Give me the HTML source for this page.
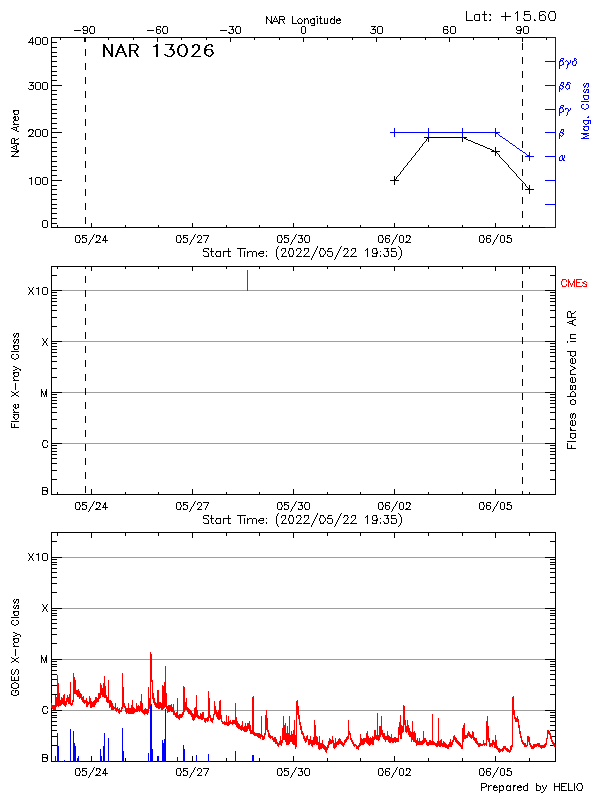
<!DOCTYPE html>
<html lang="en"><head><meta charset="utf-8"><title>NAR 13026</title>
<style>
html,body{margin:0;padding:0;background:#fff}
body{width:600px;height:800px;overflow:hidden;font-family:"Liberation Sans",sans-serif}
svg{display:block}
path{fill:none;stroke-width:1;stroke-linecap:butt}
.k{stroke:#000}.b{stroke:#00f}.r{stroke:#f00}.g{stroke:#9e9e9e}
.t text{font-family:"Liberation Sans",sans-serif;fill:transparent;stroke:none}
</style></head><body>
<svg width="600" height="800" viewBox="0 0 600 800" shape-rendering="crispEdges">
<title>NAR 13026 - NAR area, magnetic class, flares and GOES X-ray flux</title>
<rect width="600" height="800" fill="#fff"/>
<path class="g" d="M62 290.5h23M86 290.5h161M248 290.5h297M62 341.5h460M523 341.5h22M62 392.5h23M86 392.5h459M62 443.5h483M62 557.5h483M62 608.5h483M62 659.5h88M152 659.5h393M62 710.5h53M122 710.5h3M149 710.5h1M152 710.5h13M166 710.5h1M174 710.5h3M178 710.5h5M185 710.5h2M191 710.5h3M198 710.5h10M210 710.5h4M217 710.5h1M221 710.5h14M236 710.5h16M254 710.5h12M267 710.5h29M299 710.5h104M405 710.5h107M515 710.5h30"/>
<path class="k" d="M524 11.5h6M540 11.5h5M550 11.5h5M516 12.5h1M545 12.5h1M515 13.5h1M475 14.5h4M482 14.5h5M489 14.5h2M524 14.5h6M542 14.5h2M540 15.5h2M544 15.5h1M280 16.5h4M316 16.5h2M501 16.5h10M267 17.5h1M267 18.5h1M299 18.5h2M306 18.5h2M312 18.5h2M319 18.5h3M331 18.5h2M338 18.5h1M523 18.5h1M268 19.5h1M280 19.5h5M298 19.5h1M301 19.5h1M305 19.5h1M311 19.5h1M313 19.5h1M331 19.5h1M333 19.5h1M337 19.5h1M340 19.5h1M269 20.5h1M336 20.5h5M467 20.5h6M475 20.5h4M485 20.5h2M489 20.5h2M524 20.5h6M534 20.5h2M540 20.5h5M550 20.5h5M270 21.5h1M273 21.5h5M270 22.5h3M278 22.5h1M340 22.5h1M272 23.5h1M278 23.5h1M284 23.5h1M293 23.5h4M298 23.5h4M311 23.5h3M321 23.5h2M325 23.5h2M331 23.5h3M337 23.5h3M311 25.5h3M83 26.5h4M90 26.5h4M157 26.5h4M163 26.5h4M229 26.5h5M236 26.5h4M302 26.5h3M371 26.5h5M378 26.5h4M444 26.5h4M451 26.5h4M517 26.5h4M524 26.5h4M82 28.5h1M157 29.5h3M231 29.5h1M372 29.5h4M444 29.5h4M74 30.5h7M83 30.5h4M147 30.5h7M220 30.5h7M517 30.5h5M448 31.5h1M228 32.5h2M370 32.5h1M516 32.5h1M83 33.5h4M90 33.5h4M157 33.5h3M163 33.5h4M229 33.5h4M236 33.5h4M302 33.5h3M371 33.5h4M378 33.5h4M444 33.5h4M451 33.5h4M517 33.5h3M524 33.5h4M36 37.5h4M43 37.5h4M51 37.5h494M31 38.5h1M28 42.5h6M52 42.5h5M36 44.5h4M43 44.5h4M131 44.5h6M165 44.5h9M181 44.5h4M194 44.5h4M208 44.5h4M105 45.5h1M136 45.5h1M155 45.5h1M179 45.5h3M184 45.5h1M192 45.5h3M197 45.5h1M206 45.5h3M212 45.5h1M105 46.5h1M119 46.5h3M138 46.5h1M153 46.5h3M212 46.5h1M52 47.5h5M105 47.5h2M119 47.5h3M138 47.5h1M169 49.5h4M204 49.5h8M131 50.5h6M172 50.5h1M197 50.5h1M206 50.5h1M196 51.5h2M52 52.5h5M117 52.5h8M195 52.5h2M213 52.5h1M109 53.5h2M194 53.5h2M213 53.5h1M110 54.5h1M164 54.5h2M172 54.5h1M194 54.5h1M206 54.5h1M211 54.5h1M110 55.5h1M115 55.5h1M126 55.5h1M165 55.5h3M171 55.5h2M179 55.5h3M184 55.5h1M192 55.5h1M206 55.5h3M210 55.5h2M52 56.5h5M115 56.5h1M126 56.5h1M138 56.5h1M167 56.5h5M181 56.5h4M191 56.5h10M208 56.5h3M52 61.5h5M52 66.5h5M52 71.5h5M52 75.5h5M52 80.5h5M29 82.5h5M36 82.5h4M43 82.5h4M30 85.5h4M52 85.5h10M28 88.5h1M29 89.5h4M36 89.5h4M43 89.5h4M52 90.5h5M52 94.5h5M52 99.5h5M52 104.5h5M52 109.5h5M13 110.5h6M14 111.5h1M52 113.5h5M14 114.5h4M14 116.5h1M17 116.5h1M13 117.5h2M52 118.5h5M14 119.5h1M14 120.5h4M52 123.5h5M13 124.5h6M17 126.5h2M13 127.5h4M11 128.5h2M52 128.5h5M13 129.5h2M29 129.5h4M36 129.5h4M43 129.5h4M15 130.5h1M28 130.5h2M32 130.5h2M17 131.5h2M52 132.5h10M31 134.5h1M29 135.5h2M28 136.5h6M36 136.5h4M43 136.5h4M52 137.5h5M424 137.5h43M12 138.5h2M18 138.5h1M427 138.5h1M464 138.5h2M16 139.5h2M466 139.5h2M15 140.5h1M468 140.5h3M425 141.5h1M471 141.5h2M52 142.5h5M424 142.5h1M473 142.5h2M11 143.5h8M423 143.5h1M475 143.5h3M17 144.5h2M478 144.5h2M15 145.5h1M480 145.5h3M13 146.5h2M421 146.5h1M483 146.5h2M11 147.5h2M52 147.5h5M420 147.5h1M485 147.5h2M13 148.5h2M487 148.5h3M15 149.5h1M490 149.5h2M18 150.5h1M418 150.5h1M492 150.5h2M11 151.5h8M52 151.5h5M417 151.5h1M491 151.5h9M16 152.5h1M416 152.5h1M496 152.5h1M15 153.5h1M497 153.5h1M14 154.5h1M498 154.5h1M12 155.5h2M414 155.5h1M11 156.5h8M52 156.5h5M413 156.5h1M412 157.5h1M500 157.5h1M501 158.5h1M502 159.5h1M410 160.5h1M503 160.5h1M52 161.5h5M409 161.5h1M504 161.5h1M408 162.5h1M505 162.5h1M506 163.5h1M507 164.5h1M406 165.5h1M52 166.5h5M405 166.5h1M404 167.5h1M509 167.5h1M510 168.5h1M511 169.5h1M52 170.5h5M402 170.5h1M512 170.5h1M401 171.5h1M513 171.5h1M514 172.5h1M515 173.5h1M399 174.5h1M52 175.5h5M398 175.5h1M397 176.5h1M517 176.5h1M36 177.5h4M43 177.5h4M518 177.5h1M29 178.5h2M519 178.5h1M395 179.5h1M520 179.5h1M52 180.5h10M390 180.5h9M521 180.5h1M522 181.5h1M523 182.5h1M524 183.5h1M36 184.5h4M43 184.5h4M52 185.5h5M526 186.5h1M527 187.5h1M528 188.5h1M52 189.5h5M525 189.5h9M52 194.5h5M52 199.5h5M52 204.5h5M52 208.5h5M52 213.5h5M52 218.5h5M43 220.5h4M52 223.5h5M43 227.5h4M51 227.5h494M94 234.5h1M195 234.5h1M296 234.5h1M397 234.5h1M498 234.5h1M76 235.5h4M82 235.5h5M96 235.5h4M177 235.5h4M183 235.5h5M198 235.5h3M203 235.5h6M278 235.5h4M284 235.5h5M298 235.5h5M305 235.5h4M379 235.5h4M386 235.5h4M400 235.5h3M406 235.5h4M480 235.5h4M487 235.5h4M501 235.5h3M507 235.5h4M99 236.5h2M104 236.5h1M409 236.5h2M83 237.5h2M104 237.5h1M184 237.5h2M285 237.5h2M508 237.5h2M85 238.5h1M186 238.5h1M287 238.5h1M300 238.5h1M386 238.5h3M487 238.5h3M510 238.5h1M91 239.5h1M192 239.5h1M200 239.5h1M293 239.5h1M394 239.5h1M495 239.5h1M98 240.5h1M102 240.5h6M199 240.5h1M408 240.5h1M96 241.5h2M406 241.5h2M506 241.5h2M76 242.5h4M82 242.5h4M95 242.5h6M177 242.5h4M183 242.5h4M197 242.5h5M278 242.5h4M284 242.5h4M298 242.5h4M305 242.5h4M379 242.5h4M386 242.5h3M400 242.5h3M405 242.5h6M480 242.5h4M487 242.5h3M501 242.5h3M507 242.5h4M88 244.5h1M189 244.5h1M290 244.5h1M391 244.5h1M492 244.5h1M278 246.5h1M341 246.5h1M398 246.5h1M399 247.5h1M204 248.5h5M237 248.5h9M282 248.5h4M289 248.5h4M297 248.5h4M304 248.5h5M320 248.5h4M328 248.5h4M344 248.5h4M352 248.5h4M373 248.5h4M384 248.5h5M391 248.5h5M366 249.5h1M301 250.5h1M324 250.5h1M343 250.5h1M348 250.5h1M365 250.5h1M203 251.5h4M210 251.5h4M216 251.5h4M223 251.5h8M249 251.5h3M253 251.5h3M260 251.5h4M266 251.5h1M327 251.5h5M380 251.5h1M386 251.5h1M391 251.5h5M207 252.5h1M248 252.5h1M284 252.5h1M307 252.5h1M354 252.5h1M258 253.5h6M283 253.5h1M299 253.5h1M306 253.5h1M346 253.5h1M353 253.5h1M373 253.5h5M298 254.5h1M305 254.5h1M324 254.5h1M345 254.5h1M352 254.5h1M383 254.5h1M203 255.5h1M259 255.5h1M263 255.5h1M204 256.5h5M212 256.5h2M216 256.5h4M229 256.5h2M260 256.5h3M281 256.5h6M289 256.5h4M296 256.5h6M303 256.5h7M320 256.5h4M328 256.5h4M343 256.5h6M350 256.5h7M372 256.5h5M384 256.5h4M391 256.5h5M399 258.5h1M278 259.5h1M334 259.5h1M398 259.5h1M51 266.5h505M52 275.5h5M550 275.5h5M28 287.5h1M33 287.5h1M43 287.5h4M36 288.5h2M30 290.5h2M52 290.5h10M545 290.5h10M30 291.5h2M52 292.5h5M550 292.5h5M28 294.5h1M33 294.5h1M43 294.5h4M52 295.5h5M550 295.5h5M52 298.5h5M550 298.5h5M52 301.5h5M550 301.5h5M52 305.5h5M550 305.5h5M52 310.5h5M550 310.5h5M568 311.5h3M575 311.5h1M574 312.5h1M572 313.5h2M52 317.5h5M550 317.5h5M567 317.5h9M574 319.5h2M573 320.5h1M569 321.5h3M567 322.5h2M569 323.5h3M573 324.5h1M574 325.5h2M52 326.5h5M550 326.5h5M14 333.5h1M16 333.5h2M570 334.5h6M14 336.5h2M17 337.5h1M42 338.5h1M47 338.5h1M570 338.5h6M14 339.5h1M16 339.5h2M44 341.5h2M52 341.5h10M545 341.5h10M570 341.5h6M14 342.5h2M44 342.5h2M17 343.5h1M52 343.5h5M550 343.5h5M13 345.5h6M42 345.5h1M47 345.5h1M14 346.5h1M52 346.5h5M550 346.5h5M14 349.5h4M52 349.5h5M550 349.5h5M11 351.5h8M567 351.5h9M52 352.5h5M550 352.5h5M12 354.5h2M16 354.5h2M571 355.5h1M574 355.5h1M52 356.5h5M550 356.5h5M572 356.5h2M12 358.5h2M16 358.5h2M571 358.5h1M574 358.5h1M14 359.5h2M52 361.5h5M550 361.5h5M571 363.5h4M570 365.5h1M13 366.5h2M571 366.5h2M15 367.5h2M573 367.5h2M17 368.5h2M52 368.5h5M550 368.5h5M574 368.5h2M15 369.5h2M19 369.5h2M572 369.5h2M13 370.5h2M571 370.5h1M13 372.5h6M14 373.5h1M570 374.5h6M14 376.5h4M52 377.5h5M550 377.5h5M571 377.5h1M574 377.5h1M13 380.5h6M571 382.5h4M571 385.5h1M573 385.5h2M571 389.5h1M574 389.5h1M11 391.5h1M18 391.5h1M42 391.5h1M572 391.5h2M12 392.5h2M16 392.5h2M42 392.5h1M52 392.5h10M545 392.5h10M571 392.5h1M574 392.5h1M14 393.5h2M14 394.5h2M52 394.5h5M550 394.5h5M12 395.5h2M16 395.5h2M11 396.5h1M18 396.5h1M567 396.5h9M52 397.5h5M550 397.5h5M572 399.5h2M52 400.5h5M550 400.5h5M571 400.5h1M574 400.5h1M52 403.5h5M550 403.5h5M14 404.5h1M17 404.5h1M571 404.5h4M14 407.5h1M17 407.5h1M52 407.5h5M550 407.5h5M16 408.5h1M13 412.5h6M52 412.5h5M550 412.5h5M571 413.5h1M573 413.5h2M13 414.5h6M573 414.5h1M13 417.5h2M17 418.5h1M571 418.5h1M574 418.5h1M15 419.5h2M52 419.5h5M550 419.5h5M571 420.5h1M574 420.5h1M11 421.5h8M571 425.5h4M11 427.5h8M52 428.5h5M550 428.5h5M571 429.5h1M570 430.5h6M570 433.5h6M571 437.5h1M574 437.5h1M572 438.5h2M43 440.5h4M567 441.5h9M52 443.5h10M545 443.5h10M52 445.5h5M550 445.5h5M43 447.5h4M52 448.5h5M550 448.5h5M567 448.5h9M52 451.5h5M550 451.5h5M52 454.5h5M550 454.5h5M52 458.5h5M550 458.5h5M52 463.5h5M550 463.5h5M52 470.5h5M550 470.5h5M52 479.5h5M550 479.5h5M43 487.5h4M43 490.5h5M46 491.5h1M43 494.5h4M51 494.5h505M94 501.5h1M195 501.5h1M296 501.5h1M397 501.5h1M498 501.5h1M76 502.5h4M82 502.5h5M96 502.5h4M177 502.5h4M183 502.5h5M198 502.5h3M203 502.5h6M278 502.5h4M284 502.5h5M298 502.5h5M305 502.5h4M379 502.5h4M386 502.5h4M400 502.5h3M406 502.5h4M480 502.5h4M487 502.5h4M501 502.5h3M507 502.5h4M99 503.5h2M104 503.5h1M409 503.5h2M83 504.5h2M104 504.5h1M184 504.5h2M285 504.5h2M508 504.5h2M85 505.5h1M186 505.5h1M287 505.5h1M300 505.5h1M386 505.5h3M487 505.5h3M510 505.5h1M91 506.5h1M192 506.5h1M200 506.5h1M293 506.5h1M394 506.5h1M495 506.5h1M98 507.5h1M102 507.5h6M199 507.5h1M408 507.5h1M96 508.5h2M406 508.5h2M506 508.5h2M76 509.5h4M82 509.5h4M95 509.5h6M177 509.5h4M183 509.5h4M197 509.5h5M278 509.5h4M284 509.5h4M298 509.5h4M305 509.5h4M379 509.5h4M386 509.5h3M400 509.5h3M405 509.5h6M480 509.5h4M487 509.5h3M501 509.5h3M507 509.5h4M88 511.5h1M189 511.5h1M290 511.5h1M391 511.5h1M492 511.5h1M278 513.5h1M341 513.5h1M398 513.5h1M399 514.5h1M204 515.5h5M237 515.5h9M282 515.5h4M289 515.5h4M297 515.5h4M304 515.5h5M320 515.5h4M328 515.5h4M344 515.5h4M352 515.5h4M373 515.5h4M384 515.5h5M391 515.5h5M366 516.5h1M301 517.5h1M324 517.5h1M343 517.5h1M348 517.5h1M365 517.5h1M203 518.5h4M210 518.5h4M216 518.5h4M223 518.5h8M249 518.5h3M253 518.5h3M260 518.5h4M266 518.5h1M327 518.5h5M380 518.5h1M386 518.5h1M391 518.5h5M207 519.5h1M248 519.5h1M284 519.5h1M307 519.5h1M354 519.5h1M258 520.5h6M283 520.5h1M299 520.5h1M306 520.5h1M346 520.5h1M353 520.5h1M373 520.5h5M298 521.5h1M305 521.5h1M324 521.5h1M345 521.5h1M352 521.5h1M383 521.5h1M203 522.5h1M259 522.5h1M263 522.5h1M204 523.5h5M212 523.5h2M216 523.5h4M229 523.5h2M260 523.5h3M281 523.5h6M289 523.5h4M296 523.5h6M303 523.5h7M320 523.5h4M328 523.5h4M343 523.5h6M350 523.5h7M372 523.5h5M384 523.5h4M391 523.5h5M399 525.5h1M278 526.5h1M334 526.5h1M398 526.5h1M51 532.5h505M52 541.5h5M550 541.5h5M28 553.5h1M33 553.5h1M43 553.5h4M36 554.5h2M30 556.5h2M30 557.5h2M52 557.5h10M545 557.5h10M52 559.5h5M550 559.5h5M28 560.5h1M33 560.5h1M43 560.5h4M52 562.5h5M550 562.5h5M52 564.5h5M550 564.5h5M52 568.5h5M550 568.5h5M52 572.5h5M550 572.5h5M52 577.5h5M550 577.5h5M52 583.5h5M550 583.5h5M52 592.5h5M550 592.5h5M14 599.5h1M16 599.5h2M14 602.5h2M17 603.5h1M42 604.5h1M47 604.5h1M14 605.5h1M16 605.5h2M44 607.5h2M14 608.5h2M17 608.5h1M44 608.5h2M52 608.5h10M545 608.5h10M52 610.5h5M550 610.5h5M13 611.5h6M42 611.5h1M47 611.5h1M14 612.5h1M52 613.5h5M550 613.5h5M14 615.5h4M52 615.5h5M550 615.5h5M11 617.5h8M52 619.5h5M550 619.5h5M12 620.5h2M16 620.5h2M52 623.5h5M550 623.5h5M12 624.5h2M16 624.5h2M14 625.5h2M52 628.5h5M550 628.5h5M13 632.5h2M15 633.5h2M17 634.5h3M52 634.5h5M550 634.5h5M15 635.5h2M13 636.5h2M13 638.5h6M14 639.5h1M14 642.5h4M52 643.5h5M550 643.5h5M13 646.5h6M11 657.5h1M18 657.5h1M42 657.5h1M12 658.5h2M16 658.5h2M42 658.5h1M14 659.5h2M52 659.5h10M545 659.5h10M14 660.5h2M12 661.5h2M16 661.5h2M52 661.5h5M550 661.5h5M11 662.5h1M18 662.5h1M52 664.5h5M550 664.5h5M52 666.5h5M550 666.5h5M12 669.5h1M16 669.5h2M52 670.5h5M550 670.5h5M12 674.5h2M17 674.5h1M52 674.5h5M550 674.5h5M52 679.5h5M550 679.5h5M11 680.5h8M14 682.5h2M12 683.5h2M16 683.5h2M52 685.5h5M550 685.5h5M12 687.5h1M17 687.5h1M13 688.5h4M12 690.5h2M15 690.5h3M12 694.5h1M17 694.5h1M52 694.5h5M550 694.5h5M13 695.5h4M43 706.5h4M52 710.5h10M545 710.5h10M52 712.5h5M550 712.5h5M43 713.5h4M52 715.5h5M550 715.5h5M52 717.5h5M550 717.5h5M52 721.5h5M550 721.5h5M52 725.5h5M550 725.5h5M52 730.5h5M550 730.5h5M52 736.5h5M552 736.5h3M52 745.5h5M550 745.5h3M43 754.5h4M43 757.5h5M46 758.5h1M43 761.5h4M52 761.5h3M56 761.5h1M59 761.5h2M62 761.5h1M65 761.5h5M71 761.5h2M76 761.5h1M79 761.5h21M102 761.5h1M105 761.5h3M109 761.5h13M124 761.5h24M149 761.5h1M153 761.5h4M159 761.5h3M166 761.5h11M178 761.5h5M185 761.5h11M197 761.5h11M209 761.5h26M236 761.5h16M254 761.5h258M513 761.5h42M94 767.5h1M195 767.5h1M296 767.5h1M397 767.5h1M498 767.5h1M76 768.5h4M82 768.5h5M96 768.5h4M177 768.5h4M183 768.5h5M198 768.5h3M203 768.5h6M278 768.5h4M284 768.5h5M298 768.5h5M305 768.5h4M379 768.5h4M386 768.5h4M400 768.5h3M406 768.5h4M480 768.5h4M487 768.5h4M501 768.5h3M507 768.5h4M99 769.5h2M104 769.5h1M409 769.5h2M83 770.5h2M104 770.5h1M184 770.5h2M285 770.5h2M508 770.5h2M85 771.5h1M186 771.5h1M287 771.5h1M300 771.5h1M386 771.5h3M487 771.5h3M510 771.5h1M91 772.5h1M192 772.5h1M200 772.5h1M293 772.5h1M394 772.5h1M495 772.5h1M98 773.5h1M102 773.5h6M199 773.5h1M408 773.5h1M96 774.5h2M406 774.5h2M506 774.5h2M76 775.5h4M82 775.5h4M95 775.5h6M177 775.5h4M183 775.5h4M197 775.5h5M278 775.5h4M284 775.5h4M298 775.5h4M305 775.5h4M379 775.5h4M386 775.5h3M400 775.5h3M405 775.5h6M480 775.5h4M487 775.5h3M501 775.5h3M507 775.5h4M88 777.5h1M189 777.5h1M290 777.5h1M391 777.5h1M492 777.5h1M482 783.5h4M562 783.5h5M578 783.5h4M490 785.5h2M495 785.5h1M501 785.5h2M507 785.5h2M514 785.5h2M519 785.5h1M525 785.5h2M537 785.5h2M485 786.5h1M489 786.5h1M500 786.5h1M502 786.5h1M507 786.5h1M509 786.5h1M514 786.5h1M518 786.5h1M521 786.5h1M524 786.5h1M539 786.5h1M555 786.5h4M562 786.5h3M482 787.5h3M493 787.5h5M517 787.5h5M497 789.5h1M521 789.5h1M494 790.5h3M500 790.5h3M507 790.5h3M518 790.5h3M524 790.5h3M537 790.5h3M562 790.5h5M569 790.5h4M578 790.5h4M543 791.5h1M541 792.5h2M11.5 139v4M11.5 355v3M11.5 423v4M11.5 621v3M11.5 670v4M11.5 676v4M11.5 684v4M11.5 691v4M13.5 111v2M13.5 118v1M13.5 121v2M13.5 334v2M13.5 340v2M13.5 346v2M13.5 373v2M13.5 377v2M13.5 405v2M13.5 409v2M13.5 416v1M13.5 600v2M13.5 606v2M13.5 612v2M13.5 639v2M13.5 643v2M14.5 113v1M14.5 123v1M14.5 138v5M14.5 337v1M14.5 343v1M14.5 348v1M14.5 375v1M14.5 379v1M14.5 411v1M14.5 415v1M14.5 418v1M14.5 424v3M14.5 603v1M14.5 614v1M14.5 641v1M14.5 645v1M14.5 672v2M14.5 677v3M15.5 116v4M15.5 335v1M15.5 341v1M15.5 383v7M15.5 404v5M15.5 601v1M15.5 607v1M15.5 649v7M15.5 670v2M15.5 691v2M16.5 128v3M16.5 145v5M16.5 334v1M16.5 340v1M16.5 600v1M16.5 606v1M17.5 150v3M18.5 111v3M18.5 117v3M18.5 333v4M18.5 339v4M18.5 346v3M18.5 355v3M18.5 373v3M18.5 404v4M18.5 415v3M18.5 599v4M18.5 605v4M18.5 612v3M18.5 621v3M18.5 639v3M18.5 670v4M18.5 676v4M18.5 684v4M18.5 691v4M20.5 370v1M20.5 635v2M28.5 131v1M29.5 41v1M29.5 288v2M29.5 292v2M29.5 554v2M29.5 558v2M30.5 39v2M31.5 84v1M31.5 177v8M32.5 37v8M32.5 83v1M32.5 132v2M32.5 288v2M32.5 292v2M32.5 554v2M32.5 558v2M33.5 86v3M33.5 131v1M35.5 38v6M35.5 83v6M35.5 130v6M35.5 178v6M38.5 287v8M38.5 553v8M40.5 38v6M40.5 83v6M40.5 130v6M40.5 178v6M41.5 389v8M41.5 655v8M42.5 38v6M42.5 83v6M42.5 130v6M42.5 178v6M42.5 221v6M42.5 288v6M42.5 442v4M42.5 487v8M42.5 554v6M42.5 708v4M42.5 754v8M43.5 339v2M43.5 343v2M43.5 393v2M43.5 441v1M43.5 446v1M43.5 605v2M43.5 609v2M43.5 659v2M43.5 707v1M43.5 712v1M44.5 395v2M44.5 661v2M45.5 391v4M45.5 657v4M46.5 339v2M46.5 343v2M46.5 389v8M46.5 605v2M46.5 609v2M46.5 655v8M47.5 38v6M47.5 83v6M47.5 130v6M47.5 178v6M47.5 221v6M47.5 288v6M47.5 441v2M47.5 445v2M47.5 488v6M47.5 554v6M47.5 707v2M47.5 711v2M47.5 755v6M51.5 38v189M51.5 267v227M51.5 533v170M51.5 708v54M57.5 225v2M57.5 267v2M57.5 492v2M57.5 533v3M60.5 38v2M75.5 236v6M75.5 503v6M75.5 769v6M79.5 236v2M79.5 240v2M79.5 503v2M79.5 507v2M79.5 769v2M79.5 773v2M80.5 238v2M80.5 505v2M80.5 771v2M82.5 236v3M82.5 241v1M82.5 503v3M82.5 508v1M82.5 769v3M82.5 774v1M83.5 27v1M83.5 29v1M83.5 32v1M84.5 38v4M85.5 38v4M85.5 49v7M85.5 63v7M85.5 77v7M85.5 91v7M85.5 105v7M85.5 119v7M85.5 133v7M85.5 147v7M85.5 161v7M85.5 175v7M85.5 189v7M85.5 203v7M85.5 217v7M85.5 267v2M85.5 276v7M85.5 290v7M85.5 304v7M85.5 318v7M85.5 332v7M85.5 346v7M85.5 360v7M85.5 374v7M85.5 388v7M85.5 402v7M85.5 416v7M85.5 430v7M85.5 444v7M85.5 458v7M85.5 472v7M85.5 486v7M86.5 238v4M86.5 505v4M86.5 771v4M87.5 27v6M89.5 28v4M89.5 242v2M89.5 509v2M89.5 775v2M90.5 27v1M90.5 32v1M90.5 240v2M90.5 507v2M90.5 773v2M91.5 223v4M91.5 267v4M91.5 489v5M91.5 533v5M91.5 756v5M92.5 237v2M92.5 504v2M92.5 770v2M93.5 235v2M93.5 502v2M93.5 768v2M94.5 27v6M96.5 236v2M96.5 503v2M96.5 769v2M99.5 238v2M99.5 505v2M99.5 771v2M100.5 237v1M100.5 504v1M100.5 770v1M103.5 44v13M103.5 238v2M103.5 505v2M103.5 771v2M104.5 44v13M105.5 235v8M105.5 502v8M105.5 768v8M106.5 48v2M107.5 48v3M108.5 38v2M108.5 50v3M109.5 51v2M111.5 44v13M112.5 44v13M116.5 53v4M117.5 50v5M118.5 48v4M119.5 48v2M120.5 44v2M121.5 44v2M122.5 46v5M123.5 48v4M124.5 51v4M125.5 53v4M125.5 225v2M125.5 267v2M125.5 492v2M125.5 533v3M125.5 758v3M129.5 44v13M130.5 44v13M133.5 38v2M134.5 51v2M135.5 51v3M136.5 48v2M136.5 53v3M137.5 45v5M137.5 54v3M156.5 27v6M156.5 44v13M157.5 38v4M157.5 44v13M158.5 225v2M158.5 267v2M158.5 492v2M158.5 533v3M160.5 27v1M160.5 30v3M162.5 28v4M163.5 27v1M163.5 32v1M167.5 27v6M170.5 47v2M171.5 45v4M172.5 45v2M173.5 49v6M174.5 51v3M176.5 236v6M176.5 503v6M176.5 769v6M177.5 48v5M178.5 46v9M179.5 46v2M179.5 53v2M180.5 236v2M180.5 240v2M180.5 503v2M180.5 507v2M180.5 769v2M180.5 773v2M181.5 38v2M181.5 238v2M181.5 505v2M181.5 771v2M183.5 236v3M183.5 241v1M183.5 503v3M183.5 508v1M183.5 769v3M183.5 774v1M185.5 45v3M185.5 53v3M186.5 46v9M187.5 48v5M187.5 238v4M187.5 505v4M187.5 771v4M190.5 242v2M190.5 509v2M190.5 775v2M191.5 240v2M191.5 507v2M191.5 773v2M192.5 46v2M192.5 223v4M192.5 267v4M192.5 489v5M192.5 533v5M192.5 756v5M193.5 46v2M193.5 54v2M193.5 237v2M193.5 504v2M193.5 770v2M194.5 235v2M194.5 502v2M194.5 768v2M197.5 236v2M197.5 503v2M197.5 769v2M198.5 45v6M198.5 241v1M198.5 508v1M198.5 774v1M199.5 45v5M201.5 236v3M201.5 503v3M201.5 769v3M203.5 249v2M203.5 516v2M204.5 48v6M205.5 46v9M205.5 241v2M205.5 508v2M205.5 774v2M206.5 38v2M206.5 46v2M206.5 239v2M206.5 506v2M206.5 772v2M207.5 237v2M207.5 504v2M207.5 770v2M208.5 236v1M208.5 249v1M208.5 253v3M208.5 503v1M208.5 516v1M208.5 520v3M208.5 769v1M211.5 45v2M211.5 50v2M211.5 248v8M211.5 515v8M212.5 50v5M215.5 253v2M215.5 520v2M216.5 252v1M216.5 255v1M216.5 519v1M216.5 522v1M220.5 251v6M220.5 518v6M223.5 252v5M223.5 519v5M226.5 225v2M226.5 267v2M226.5 492v2M226.5 533v3M226.5 758v3M228.5 248v9M228.5 515v9M230.5 38v4M232.5 27v3M233.5 29v4M235.5 28v4M236.5 27v1M236.5 32v1M240.5 27v6M240.5 249v8M240.5 516v8M244.5 251v6M244.5 518v6M247.5 251v6M247.5 518v6M252.5 252v5M252.5 519v5M254.5 38v2M256.5 252v5M256.5 519v5M258.5 254v1M258.5 521v1M259.5 225v2M259.5 252v1M259.5 267v2M259.5 492v2M259.5 519v1M259.5 533v3M259.5 758v3M263.5 252v1M263.5 519v1M266.5 16v8M266.5 255v2M266.5 522v2M271.5 16v8M273.5 20v1M274.5 18v2M275.5 16v2M276.5 18v2M276.5 249v8M276.5 516v8M277.5 20v1M277.5 236v6M277.5 247v2M277.5 257v2M277.5 503v6M277.5 514v2M277.5 524v2M277.5 769v6M279.5 16v8M279.5 38v2M281.5 236v2M281.5 240v2M281.5 249v2M281.5 503v2M281.5 507v2M281.5 516v2M281.5 769v2M281.5 773v2M282.5 20v1M282.5 238v2M282.5 254v2M282.5 505v2M282.5 521v2M282.5 771v2M283.5 21v2M284.5 17v2M284.5 236v3M284.5 241v1M284.5 503v3M284.5 508v1M284.5 769v3M284.5 774v1M285.5 249v3M285.5 516v3M288.5 238v4M288.5 251v3M288.5 505v4M288.5 518v3M288.5 771v4M289.5 249v2M289.5 254v2M289.5 516v2M289.5 521v2M291.5 242v2M291.5 509v2M291.5 775v2M292.5 16v8M292.5 240v2M292.5 249v1M292.5 255v1M292.5 507v2M292.5 516v1M292.5 522v1M292.5 773v2M293.5 223v4M293.5 250v5M293.5 267v4M293.5 489v5M293.5 517v5M293.5 533v5M293.5 756v5M294.5 237v2M294.5 504v2M294.5 770v2M295.5 235v2M295.5 502v2M295.5 768v2M296.5 249v2M296.5 516v2M297.5 20v2M297.5 255v1M297.5 522v1M298.5 22v1M298.5 241v1M298.5 508v1M298.5 774v1M300.5 249v1M300.5 251v2M300.5 516v1M300.5 518v2M301.5 22v1M301.5 27v6M301.5 236v3M301.5 503v3M301.5 769v3M302.5 20v2M302.5 238v4M302.5 505v4M302.5 771v4M303.5 38v4M304.5 18v6M304.5 237v4M304.5 249v2M304.5 255v1M304.5 504v4M304.5 516v2M304.5 522v1M304.5 770v4M305.5 27v6M305.5 236v1M305.5 241v1M305.5 503v1M305.5 508v1M305.5 769v1M305.5 774v1M307.5 19v1M308.5 20v4M308.5 249v3M308.5 516v3M309.5 236v6M309.5 503v6M309.5 769v6M310.5 19v4M311.5 258v2M311.5 525v2M312.5 256v2M312.5 523v2M313.5 254v2M313.5 521v2M314.5 18v8M314.5 252v2M314.5 519v2M315.5 250v2M315.5 517v2M316.5 248v2M316.5 515v2M317.5 18v6M317.5 246v2M317.5 513v2M319.5 251v3M319.5 518v3M320.5 16v8M320.5 249v2M320.5 254v2M320.5 516v2M320.5 521v2M323.5 249v1M323.5 255v1M323.5 516v1M323.5 522v1M324.5 18v6M325.5 251v3M325.5 518v3M327.5 18v6M327.5 38v2M327.5 225v2M327.5 250v1M327.5 254v2M327.5 267v2M327.5 492v2M327.5 517v1M327.5 521v2M327.5 533v3M327.5 758v3M328.5 249v1M328.5 516v1M330.5 19v4M332.5 252v4M332.5 519v4M334.5 16v8M335.5 257v2M335.5 524v2M336.5 19v4M336.5 255v2M336.5 522v2M337.5 253v2M337.5 520v2M338.5 251v2M338.5 518v2M339.5 18v2M339.5 249v2M339.5 516v2M340.5 247v2M340.5 514v2M344.5 249v1M344.5 255v1M344.5 516v1M344.5 522v1M347.5 249v1M347.5 251v2M347.5 516v1M347.5 518v2M351.5 249v2M351.5 255v1M351.5 516v2M351.5 522v1M352.5 38v2M355.5 249v3M355.5 516v3M360.5 225v2M360.5 267v2M360.5 492v2M360.5 533v3M360.5 758v3M367.5 248v9M367.5 515v9M372.5 249v4M372.5 255v1M372.5 516v4M372.5 522v1M373.5 28v1M374.5 27v1M375.5 30v3M376.5 38v4M376.5 249v2M376.5 252v4M376.5 516v2M376.5 519v4M377.5 27v6M377.5 251v2M377.5 518v2M378.5 236v6M378.5 503v6M378.5 769v6M380.5 255v2M380.5 522v2M382.5 27v6M382.5 236v2M382.5 240v2M382.5 503v2M382.5 507v2M382.5 769v2M382.5 773v2M383.5 238v2M383.5 505v2M383.5 771v2M384.5 255v1M384.5 522v1M385.5 236v6M385.5 503v6M385.5 769v6M387.5 249v3M387.5 516v3M388.5 251v5M388.5 518v5M389.5 236v1M389.5 239v3M389.5 503v1M389.5 506v3M389.5 769v1M389.5 772v3M391.5 249v2M391.5 254v2M391.5 516v2M391.5 521v2M392.5 242v2M392.5 509v2M392.5 775v2M393.5 240v2M393.5 507v2M393.5 773v2M394.5 176v9M394.5 223v4M394.5 267v4M394.5 489v5M394.5 533v5M394.5 756v5M395.5 237v2M395.5 504v2M395.5 770v2M396.5 177v2M396.5 235v2M396.5 252v4M396.5 502v2M396.5 519v4M396.5 768v2M399.5 236v6M399.5 503v6M399.5 769v6M400.5 38v2M400.5 172v2M400.5 248v2M400.5 256v2M400.5 515v2M400.5 523v2M401.5 250v6M401.5 517v6M403.5 168v2M403.5 236v6M403.5 503v6M403.5 769v6M406.5 236v2M406.5 503v2M406.5 769v2M407.5 163v2M409.5 238v2M409.5 505v2M409.5 771v2M410.5 237v1M410.5 504v1M410.5 770v1M411.5 158v2M415.5 153v2M419.5 148v2M422.5 144v2M425.5 38v2M426.5 139v2M428.5 138v4M428.5 225v2M428.5 267v2M428.5 492v2M428.5 533v3M428.5 758v3M443.5 27v6M447.5 27v1M447.5 30v1M447.5 32v1M449.5 38v4M450.5 27v6M455.5 27v6M462.5 138v4M462.5 225v2M462.5 267v2M462.5 492v2M462.5 533v3M462.5 758v3M466.5 11v10M473.5 38v2M474.5 15v5M479.5 14v7M479.5 236v6M479.5 503v6M479.5 769v6M481.5 783v8M483.5 236v2M483.5 240v2M483.5 503v2M483.5 507v2M483.5 769v2M483.5 773v2M484.5 11v10M484.5 238v2M484.5 505v2M484.5 771v2M486.5 236v6M486.5 503v6M486.5 769v6M486.5 784v3M488.5 785v6M490.5 15v1M490.5 19v1M490.5 236v1M490.5 239v3M490.5 503v1M490.5 506v3M490.5 769v1M490.5 772v3M493.5 242v2M493.5 509v2M493.5 775v2M493.5 786v4M494.5 240v2M494.5 507v2M494.5 773v2M494.5 785v2M495.5 147v9M495.5 223v4M495.5 267v4M495.5 489v5M495.5 533v5M495.5 756v5M496.5 237v2M496.5 504v2M496.5 770v2M496.5 786v1M497.5 235v2M497.5 502v2M497.5 768v2M498.5 38v2M499.5 155v2M499.5 785v8M500.5 236v6M500.5 503v6M500.5 769v6M503.5 786v4M504.5 236v6M504.5 503v6M504.5 769v6M505.5 12v9M506.5 786v4M507.5 236v3M507.5 503v3M507.5 769v3M508.5 165v2M510.5 785v6M511.5 238v4M511.5 505v4M511.5 771v4M513.5 785v6M516.5 27v3M516.5 174v2M517.5 11v10M517.5 786v4M520.5 27v1M520.5 29v5M520.5 785v2M521.5 28v2M522.5 38v4M522.5 43v7M522.5 57v7M522.5 71v7M522.5 85v7M522.5 99v7M522.5 113v7M522.5 127v7M522.5 141v7M522.5 155v7M522.5 169v7M522.5 183v7M522.5 197v7M522.5 211v7M522.5 225v2M522.5 267v7M522.5 281v7M522.5 295v7M522.5 309v7M522.5 323v7M522.5 337v7M522.5 351v7M522.5 365v7M522.5 379v7M522.5 393v7M522.5 407v7M522.5 421v7M522.5 435v7M522.5 449v7M522.5 463v7M522.5 477v7M522.5 491v3M523.5 27v6M523.5 786v4M524.5 12v4M524.5 19v1M525.5 184v2M527.5 783v8M528.5 27v6M529.5 185v9M529.5 225v2M529.5 267v2M529.5 492v2M529.5 533v3M529.5 758v3M530.5 15v5M534.5 19v1M536.5 783v8M539.5 12v8M540.5 786v4M542.5 785v2M543.5 787v2M544.5 789v2M545.5 16v4M545.5 787v2M546.5 38v2M546.5 785v2M548.5 14v4M549.5 12v2M549.5 18v2M554.5 12v1M554.5 19v1M554.5 783v8M555.5 13v6M555.5 267v227M555.5 533v229M559.5 783v8M561.5 783v8M567.5 312v5M567.5 341v2M567.5 443v5M568.5 783v8M570.5 312v1M570.5 335v3M570.5 352v4M570.5 359v4M570.5 370v4M570.5 378v4M570.5 385v5M570.5 393v3M570.5 400v4M570.5 414v4M570.5 421v4M570.5 427v3M570.5 434v4M571.5 313v4M571.5 445v3M572.5 320v5M572.5 358v5M572.5 377v5M572.5 386v4M572.5 414v4M572.5 420v5M574.5 783v8M575.5 352v4M575.5 359v4M575.5 378v4M575.5 385v5M575.5 393v3M575.5 400v4M575.5 414v4M575.5 421v4M575.5 434v4M576.5 786v2M577.5 784v2M577.5 788v2M581.5 784v1M581.5 789v1M582.5 785v4"/>
<path class="b" d="M545 37.5h10M561 58.5h3M575 58.5h1M576 59.5h1M560 60.5h3M566 60.5h1M575 60.5h1M545 61.5h10M565 61.5h1M567 61.5h1M573 61.5h1M569 63.5h1M562 64.5h1M560 65.5h2M573 65.5h3M566 68.5h1M561 82.5h3M567 82.5h3M570 83.5h1M584 83.5h1M586 83.5h2M566 84.5h3M545 85.5h10M560 85.5h3M562 86.5h2M584 86.5h2M587 87.5h1M560 88.5h1M562 88.5h1M566 88.5h1M568 88.5h1M561 89.5h1M567 89.5h1M584 89.5h1M586 89.5h2M584 92.5h2M587 92.5h1M583 95.5h6M584 99.5h4M581 101.5h8M582 104.5h2M586 104.5h2M561 105.5h3M560 107.5h3M565 108.5h3M582 108.5h2M586 108.5h2M545 109.5h10M584 109.5h2M569 110.5h1M562 111.5h1M560 112.5h2M566 115.5h1M587 117.5h2M583 120.5h8M584 123.5h1M587 123.5h1M585 124.5h2M583 126.5h6M561 129.5h3M583 129.5h2M584 130.5h4M390 132.5h110M545 132.5h10M560 132.5h3M496 133.5h2M562 133.5h2M581 133.5h8M498 134.5h1M583 134.5h4M499 135.5h1M560 135.5h1M562 135.5h1M587 135.5h2M500 136.5h2M561 136.5h1M585 136.5h2M502 137.5h1M583 137.5h2M503 138.5h2M581 138.5h8M505 139.5h1M506 140.5h2M508 141.5h1M509 142.5h1M510 143.5h2M512 144.5h1M513 145.5h2M515 146.5h1M516 147.5h1M517 148.5h2M519 149.5h1M520 150.5h2M522 151.5h1M523 152.5h2M525 153.5h1M526 154.5h1M527 155.5h2M561 155.5h1M525 156.5h9M545 156.5h10M560 156.5h1M560 160.5h2M564 160.5h1M545 180.5h10M545 204.5h10M545 227.5h10M61 761.5h1M63 761.5h2M512 761.5h1M55.5 756v6M57.5 733v29M58.5 746v16M64.5 760v1M70.5 729v33M73.5 731v31M74.5 743v19M75.5 746v16M77.5 758v4M78.5 756v6M100.5 749v13M101.5 756v6M103.5 746v16M104.5 733v29M108.5 738v24M122.5 728v34M123.5 751v11M148.5 753v9M150.5 705v57M151.5 704v58M152.5 749v13M157.5 756v6M158.5 756v6M162.5 740v22M163.5 743v19M164.5 739v23M165.5 709v53M177.5 757v5M183.5 745v17M184.5 749v13M196.5 755v7M208.5 754v8M235.5 751v11M252.5 755v7M253.5 755v7M394.5 128v9M428.5 128v9M462.5 128v9M495.5 128v9M529.5 152v9M555.5 37v191M559.5 61v8M559.5 86v6M559.5 108v8M559.5 133v6M559.5 157v4M560.5 59v3M560.5 84v1M560.5 106v3M560.5 131v1M561.5 83v1M561.5 130v1M562.5 61v1M562.5 108v1M562.5 155v5M563.5 59v1M563.5 62v3M563.5 83v2M563.5 87v1M563.5 106v1M563.5 109v3M563.5 130v2M563.5 134v1M563.5 158v3M564.5 155v3M565.5 86v2M565.5 109v1M566.5 85v1M567.5 64v4M567.5 83v1M567.5 112v3M568.5 62v3M568.5 109v3M569.5 85v4M570.5 60v3M570.5 108v2M572.5 61v4M574.5 58v3M575.5 64v1M576.5 61v3M581.5 105v3M583.5 84v2M583.5 90v2M583.5 96v2M583.5 121v2M583.5 128v1M584.5 87v1M584.5 98v1M584.5 127v1M585.5 85v1M585.5 91v1M586.5 84v1M586.5 90v1M588.5 83v4M588.5 89v4M588.5 96v3M588.5 105v3M588.5 116v1M588.5 121v3M588.5 127v3M590.5 121v3"/>
<path class="r" d="M562 279.5h4M577 279.5h5M569 281.5h1M573 281.5h1M584 281.5h2M569 282.5h1M573 282.5h1M577 282.5h3M582 282.5h2M586 282.5h1M583 283.5h2M585 284.5h1M582 285.5h1M562 286.5h4M577 286.5h5M583 286.5h4M76 690.5h1M76 691.5h2M76 692.5h2M76 693.5h5M99 693.5h1M76 694.5h6M99 694.5h1M80 695.5h1M80 696.5h1M80 697.5h3M97 698.5h1M97 699.5h1M56 700.5h8M82 700.5h4M97 700.5h1M55 701.5h15M82 701.5h6M93 701.5h5M107 701.5h1M56 702.5h11M83 702.5h14M56 703.5h11M71 703.5h2M86 703.5h10M154 703.5h8M60 704.5h1M71 704.5h1M88 704.5h1M92 704.5h2M154 704.5h8M51 705.5h10M92 705.5h1M155 705.5h7M51 706.5h4M92 706.5h1M113 706.5h1M137 706.5h3M155 706.5h17M51 707.5h4M113 707.5h2M137 707.5h3M156 707.5h6M167 707.5h6M187 707.5h1M52 708.5h1M112 708.5h6M125 708.5h10M137 708.5h3M167 708.5h6M187 708.5h2M116 709.5h3M125 709.5h18M146 709.5h1M167 709.5h6M187 709.5h3M116 710.5h6M125 710.5h23M167 710.5h6M118 711.5h3M125 711.5h13M143 711.5h5M174 711.5h1M187 711.5h4M126 712.5h9M143 712.5h5M216 712.5h2M129 713.5h2M143 713.5h4M174 713.5h2M189 713.5h2M216 713.5h2M174 714.5h2M180 714.5h3M190 714.5h8M175 715.5h8M191 715.5h8M175 716.5h8M191 716.5h13M176 717.5h6M198 717.5h6M198 718.5h10M211 718.5h1M516 718.5h1M204 719.5h4M211 719.5h1M516 719.5h1M204 720.5h4M232 720.5h3M516 720.5h1M232 721.5h3M516 721.5h1M222 722.5h16M222 723.5h17M224 724.5h6M239 724.5h1M237 726.5h5M244 726.5h5M237 727.5h14M238 728.5h13M240 729.5h8M243 730.5h1M251 730.5h1M251 731.5h1M410 731.5h1M251 732.5h4M410 732.5h1M250 733.5h10M383 733.5h1M410 733.5h1M548 733.5h2M254 734.5h7M383 734.5h1M410 734.5h1M470 734.5h1M254 735.5h9M282 735.5h14M376 735.5h3M410 735.5h1M465 735.5h9M257 736.5h8M269 736.5h4M282 736.5h14M376 736.5h3M382 736.5h8M410 736.5h1M465 736.5h3M469 736.5h3M270 737.5h3M282 737.5h14M373 737.5h6M383 737.5h9M465 737.5h3M470 737.5h5M272 738.5h2M282 738.5h14M304 738.5h4M363 738.5h17M383 738.5h16M465 738.5h1M474 738.5h1M272 739.5h5M282 739.5h14M304 739.5h6M360 739.5h15M384 739.5h15M474 739.5h1M273 740.5h1M286 740.5h7M308 740.5h10M330 740.5h2M360 740.5h14M388 740.5h10M422 740.5h5M273 741.5h1M279 741.5h1M286 741.5h7M308 741.5h10M330 741.5h2M337 741.5h5M360 741.5h14M388 741.5h10M413 741.5h14M429 741.5h5M457 741.5h2M279 742.5h1M308 742.5h11M330 742.5h2M336 742.5h7M369 742.5h5M415 742.5h10M426 742.5h9M457 742.5h3M493 742.5h1M275 743.5h7M308 743.5h15M331 743.5h1M333 743.5h12M359 743.5h6M371 743.5h1M416 743.5h7M426 743.5h20M457 743.5h4M477 743.5h4M484 743.5h2M490 743.5h5M522 743.5h4M537 743.5h1M277 744.5h3M317 744.5h7M334 744.5h5M341 744.5h3M354 744.5h2M359 744.5h1M416 744.5h7M426 744.5h21M448 744.5h5M477 744.5h9M490 744.5h5M523 744.5h1M533 744.5h7M318 745.5h7M353 745.5h4M435 745.5h17M459 745.5h3M478 745.5h5M490 745.5h2M524 745.5h3M533 745.5h13M318 746.5h8M356 746.5h4M442 746.5h10M497 746.5h1M504 746.5h1M526 746.5h1M530 746.5h7M538 746.5h8M318 747.5h11M357 747.5h1M446 747.5h2M497 747.5h1M504 747.5h1M531 747.5h4M540 747.5h5M323 748.5h5M357 748.5h1M497 748.5h2M502 748.5h6M532 748.5h1M497 749.5h7M505 749.5h4M498 750.5h6M506 750.5h4M500 751.5h1M507 751.5h3M51.5 703v2M53.5 708v2M54.5 708v2M55.5 695v15M56.5 697v10M57.5 675v30M58.5 683v24M59.5 693v12M61.5 697v8M62.5 698v2M63.5 695v10M64.5 694v12M65.5 704v3M66.5 698v7M67.5 695v6M68.5 697v7M69.5 694v10M70.5 682v23M71.5 705v1M72.5 700v5M73.5 673v29M74.5 677v17M75.5 680v14M77.5 690v7M78.5 689v8M79.5 691v8M81.5 695v5M82.5 698v2M83.5 696v4M84.5 703v1M86.5 698v9M87.5 704v3M89.5 696v6M90.5 698v10M91.5 701v7M93.5 705v2M94.5 700v7M95.5 697v8M96.5 697v4M98.5 693v9M99.5 695v4M100.5 683v15M101.5 685v10M102.5 688v9M103.5 683v14M104.5 676v22M105.5 686v12M106.5 695v7M107.5 697v6M108.5 680v23M109.5 700v8M110.5 700v7M111.5 701v9M112.5 703v7M113.5 709v1M115.5 703v8M116.5 711v1M117.5 707v1M118.5 712v1M119.5 708v6M121.5 707v5M122.5 673v36M123.5 687v20M124.5 703v5M125.5 706v2M126.5 713v1M128.5 703v11M131.5 705v9M132.5 700v14M133.5 707v7M136.5 703v6M138.5 705v1M139.5 711v1M140.5 701v8M141.5 694v18M142.5 703v10M144.5 709v6M145.5 708v2M147.5 709v6M148.5 687v26M149.5 698v11M150.5 652v53M151.5 654v28M152.5 680v19M153.5 693v10M154.5 698v5M155.5 702v1M157.5 690v13M158.5 690v19M159.5 702v7M160.5 702v1M161.5 708v2M162.5 685v25M163.5 686v23M164.5 682v26M165.5 666v40M166.5 693v16M167.5 711v2M168.5 705v7M169.5 705v7M170.5 705v1M171.5 704v8M172.5 711v1M173.5 704v11M174.5 712v1M176.5 712v3M177.5 698v17M178.5 718v1M179.5 714v6M182.5 712v2M183.5 686v29M184.5 687v25M185.5 702v8M186.5 698v12M187.5 710v1M188.5 710v4M189.5 710v3M190.5 710v3M191.5 711v3M192.5 713v7M193.5 717v4M194.5 708v12M195.5 707v11M196.5 695v19M197.5 710v8M200.5 713v3M201.5 714v6M202.5 712v8M203.5 712v4M204.5 721v1M205.5 721v2M207.5 717v5M208.5 691v30M209.5 698v20M210.5 715v6M211.5 720v2M212.5 718v5M213.5 714v6M214.5 701v14M215.5 706v8M216.5 710v7M217.5 714v5M218.5 710v10M219.5 701v19M220.5 700v19M221.5 715v7M222.5 721v1M224.5 721v1M226.5 715v7M227.5 725v1M228.5 716v10M229.5 721v1M230.5 720v2M232.5 724v1M235.5 703v22M236.5 717v10M237.5 721v5M238.5 724v2M239.5 725v1M241.5 725v6M242.5 721v6M244.5 730v2M245.5 723v9M246.5 730v2M247.5 270v21M247.5 723v8M248.5 723v3M249.5 721v10M250.5 725v8M252.5 697v35M253.5 696v39M258.5 737v1M259.5 737v1M260.5 737v2M261.5 716v19M262.5 737v3M263.5 737v3M264.5 733v6M265.5 715v20M266.5 710v20M267.5 718v14M268.5 730v7M269.5 733v5M270.5 735v4M274.5 737v5M275.5 737v6M276.5 740v3M277.5 742v4M278.5 745v2M280.5 736v9M281.5 740v6M282.5 728v15M283.5 716v19M284.5 725v10M285.5 723v19M286.5 733v12M287.5 726v19M288.5 733v12M289.5 716v28M291.5 731v4M292.5 734v10M293.5 730v15M294.5 720v25M295.5 740v9M296.5 701v46M297.5 700v15M298.5 706v13M299.5 715v10M300.5 722v8M301.5 726v8M302.5 731v4M303.5 733v6M304.5 736v5M305.5 740v3M306.5 736v6M307.5 735v3M308.5 744v1M309.5 744v1M310.5 736v4M311.5 744v2M312.5 744v3M313.5 737v8M314.5 720v25M315.5 725v15M316.5 736v9M317.5 737v3M318.5 748v1M319.5 736v14M320.5 748v1M321.5 748v1M322.5 740v3M324.5 749v1M325.5 749v3M326.5 749v4M327.5 745v5M328.5 741v6M329.5 738v7M330.5 739v5M332.5 736v7M333.5 740v8M334.5 745v4M335.5 738v10M336.5 745v2M338.5 739v2M339.5 738v3M340.5 739v2M342.5 745v1M343.5 745v2M344.5 740v5M345.5 739v4M346.5 737v5M347.5 736v4M348.5 720v19M349.5 731v4M350.5 733v7M351.5 738v4M352.5 740v4M353.5 742v3M354.5 746v1M356.5 747v2M358.5 745v5M359.5 745v1M360.5 734v12M361.5 738v7M362.5 742v3M363.5 742v3M364.5 742v1M366.5 733v10M367.5 731v13M368.5 736v9M369.5 743v3M370.5 737v8M372.5 736v9M373.5 743v2M374.5 730v7M375.5 730v7M376.5 739v1M377.5 713v27M378.5 739v2M379.5 726v14M380.5 726v11M381.5 716v19M382.5 730v6M383.5 735v1M384.5 733v3M385.5 740v2M387.5 731v5M388.5 735v1M389.5 742v1M390.5 742v1M391.5 734v3M392.5 742v1M393.5 742v1M394.5 737v1M395.5 737v6M398.5 727v15M399.5 722v13M400.5 715v24M401.5 725v14M402.5 726v7M403.5 705v27M404.5 706v19M405.5 720v12M406.5 726v7M407.5 720v12M408.5 725v10M409.5 728v9M411.5 732v10M412.5 721v19M413.5 732v9M414.5 731v10M415.5 733v8M416.5 740v6M417.5 738v3M419.5 738v3M423.5 731v13M424.5 738v2M425.5 738v2M427.5 745v1M428.5 745v1M429.5 740v1M430.5 740v1M432.5 714v27M436.5 746v1M437.5 741v6M438.5 718v25M439.5 741v6M440.5 740v7M441.5 739v4M443.5 741v2M444.5 742v1M445.5 747v1M447.5 748v1M448.5 747v2M449.5 742v2M450.5 739v5M451.5 742v2M452.5 740v4M453.5 736v6M454.5 735v5M455.5 737v5M456.5 738v5M457.5 740v1M458.5 744v1M459.5 744v1M460.5 744v3M461.5 746v3M462.5 728v21M463.5 725v17M464.5 723v16M467.5 733v2M468.5 731v4M469.5 732v3M471.5 738v1M472.5 731v6M473.5 732v8M474.5 740v1M475.5 738v5M476.5 738v6M477.5 741v2M478.5 746v1M479.5 746v1M483.5 740v4M484.5 745v1M486.5 721v25M487.5 716v24M488.5 726v16M489.5 738v9M490.5 746v1M492.5 740v7M493.5 740v2M494.5 742v6M495.5 735v13M496.5 740v9M498.5 751v1M499.5 748v5M502.5 751v1M503.5 746v2M505.5 746v2M509.5 752v1M510.5 746v6M511.5 745v5M512.5 697v50M513.5 696v19M514.5 710v9M515.5 717v5M517.5 716v6M518.5 719v9M519.5 725v9M520.5 731v7M521.5 736v6M522.5 740v3M523.5 742v1M524.5 744v3M525.5 744v3M527.5 736v10M528.5 736v6M529.5 737v8M530.5 743v3M531.5 745v4M533.5 748v1M538.5 743v1M539.5 743v1M541.5 748v1M544.5 744v1M545.5 743v2M546.5 738v7M547.5 730v9M548.5 730v3M549.5 731v4M550.5 733v6M551.5 736v6M552.5 740v4M553.5 742v4M554.5 743v4M561.5 281v4M562.5 280v1M562.5 285v1M566.5 280v2M566.5 284v2M568.5 279v8M570.5 283v2M571.5 285v2M572.5 283v2M574.5 279v8M576.5 279v8M586.5 284v2"/>
<g class="t">
<text x="26.9" y="44.0" font-size="9.78" text-anchor="start" textLength="21.1" lengthAdjust="spacingAndGlyphs">400</text>
<text x="26.9" y="89.0" font-size="9.78" text-anchor="start" textLength="21.1" lengthAdjust="spacingAndGlyphs">300</text>
<text x="26.9" y="136.0" font-size="9.78" text-anchor="start" textLength="21.1" lengthAdjust="spacingAndGlyphs">200</text>
<text x="26.9" y="184.0" font-size="9.78" text-anchor="start" textLength="21.2" lengthAdjust="spacingAndGlyphs">100</text>
<text x="40.9" y="227.0" font-size="9.78" text-anchor="start" textLength="7.1" lengthAdjust="spacingAndGlyphs">0</text>
<text x="72.6" y="33.0" font-size="9.78" text-anchor="start" textLength="22.4" lengthAdjust="spacingAndGlyphs">-90</text>
<text x="145.6" y="33.0" font-size="9.78" text-anchor="start" textLength="22.4" lengthAdjust="spacingAndGlyphs">-60</text>
<text x="218.6" y="33.0" font-size="9.78" text-anchor="start" textLength="22.4" lengthAdjust="spacingAndGlyphs">-30</text>
<text x="300.1" y="33.0" font-size="9.78" text-anchor="start" textLength="5.7" lengthAdjust="spacingAndGlyphs">0</text>
<text x="368.9" y="33.0" font-size="9.78" text-anchor="start" textLength="14.1" lengthAdjust="spacingAndGlyphs">30</text>
<text x="441.5" y="33.0" font-size="9.78" text-anchor="start" textLength="14.5" lengthAdjust="spacingAndGlyphs">60</text>
<text x="514.9" y="33.0" font-size="9.78" text-anchor="start" textLength="14.1" lengthAdjust="spacingAndGlyphs">90</text>
<text x="264.7" y="23.0" font-size="9.78" text-anchor="start" textLength="76.4" lengthAdjust="spacingAndGlyphs">NAR Longitude</text>
<text x="74.0" y="242.0" font-size="9.78" text-anchor="start" textLength="33.6" lengthAdjust="spacingAndGlyphs">05/24</text>
<text x="175.0" y="242.0" font-size="9.78" text-anchor="start" textLength="34.0" lengthAdjust="spacingAndGlyphs">05/27</text>
<text x="276.0" y="242.0" font-size="9.78" text-anchor="start" textLength="34.0" lengthAdjust="spacingAndGlyphs">05/30</text>
<text x="377.0" y="242.0" font-size="9.78" text-anchor="start" textLength="34.0" lengthAdjust="spacingAndGlyphs">06/02</text>
<text x="478.0" y="242.0" font-size="9.78" text-anchor="start" textLength="34.0" lengthAdjust="spacingAndGlyphs">06/05</text>
<text x="201.9" y="256.0" font-size="11.17" text-anchor="start" textLength="200.7" lengthAdjust="spacingAndGlyphs">Start Time: (2022/05/22 19:35)</text>
<text x="18.0" y="157.3" font-size="9.78" text-anchor="start" textLength="48.7" lengthAdjust="spacingAndGlyphs" transform="rotate(-90 18.0 157.3)">NAR Area</text>
<text x="103.0" y="56.0" font-size="16.76" text-anchor="start" textLength="109.0" lengthAdjust="spacingAndGlyphs">NAR 13026</text>
<text x="464.1" y="20.0" font-size="12.57" text-anchor="start" textLength="91.2" lengthAdjust="spacingAndGlyphs">Lat: +15.60</text>
<text x="588.0" y="139.3" font-size="9.78" text-anchor="start" textLength="57.4" lengthAdjust="spacingAndGlyphs" transform="rotate(-90 588.0 139.3)">Mag. Class</text>
<text x="559.0" y="65.0" font-size="9.78" text-anchor="start" textLength="18.0" lengthAdjust="spacingAndGlyphs">βγδ</text>
<text x="559.0" y="89.0" font-size="9.78" text-anchor="start" textLength="12.0" lengthAdjust="spacingAndGlyphs">βδ</text>
<text x="559.0" y="113.0" font-size="9.78" text-anchor="start" textLength="12.0" lengthAdjust="spacingAndGlyphs">βγ</text>
<text x="559.0" y="136.0" font-size="9.78" text-anchor="start" textLength="6.0" lengthAdjust="spacingAndGlyphs">β</text>
<text x="559.0" y="160.0" font-size="9.78" text-anchor="start" textLength="6.0" lengthAdjust="spacingAndGlyphs">α</text>
<text x="40.6" y="494.0" font-size="9.78" text-anchor="start" textLength="7.5" lengthAdjust="spacingAndGlyphs">B</text>
<text x="41.0" y="447.0" font-size="9.78" text-anchor="start" textLength="7.0" lengthAdjust="spacingAndGlyphs">C</text>
<text x="39.8" y="396.0" font-size="9.78" text-anchor="start" textLength="7.5" lengthAdjust="spacingAndGlyphs">M</text>
<text x="40.9" y="345.0" font-size="9.78" text-anchor="start" textLength="7.1" lengthAdjust="spacingAndGlyphs">X</text>
<text x="26.9" y="294.0" font-size="9.78" text-anchor="start" textLength="21.1" lengthAdjust="spacingAndGlyphs">X10</text>
<text x="74.0" y="509.0" font-size="9.78" text-anchor="start" textLength="33.6" lengthAdjust="spacingAndGlyphs">05/24</text>
<text x="175.0" y="509.0" font-size="9.78" text-anchor="start" textLength="34.0" lengthAdjust="spacingAndGlyphs">05/27</text>
<text x="276.0" y="509.0" font-size="9.78" text-anchor="start" textLength="34.0" lengthAdjust="spacingAndGlyphs">05/30</text>
<text x="377.0" y="509.0" font-size="9.78" text-anchor="start" textLength="34.0" lengthAdjust="spacingAndGlyphs">06/02</text>
<text x="478.0" y="509.0" font-size="9.78" text-anchor="start" textLength="34.0" lengthAdjust="spacingAndGlyphs">06/05</text>
<text x="18.0" y="428.4" font-size="9.78" text-anchor="start" textLength="96.4" lengthAdjust="spacingAndGlyphs" transform="rotate(-90 18.0 428.4)">Flare X-ray Class</text>
<text x="201.9" y="523.0" font-size="11.17" text-anchor="start" textLength="200.7" lengthAdjust="spacingAndGlyphs">Start Time: (2022/05/22 19:35)</text>
<text x="560.0" y="286.0" font-size="9.78" text-anchor="start" textLength="27.0" lengthAdjust="spacingAndGlyphs">CMEs</text>
<text x="575.0" y="449.6" font-size="11.17" text-anchor="start" textLength="139.8" lengthAdjust="spacingAndGlyphs" transform="rotate(-90 575.0 449.6)">Flares observed in AR</text>
<text x="40.6" y="761.0" font-size="9.78" text-anchor="start" textLength="7.5" lengthAdjust="spacingAndGlyphs">B</text>
<text x="41.0" y="713.0" font-size="9.78" text-anchor="start" textLength="7.0" lengthAdjust="spacingAndGlyphs">C</text>
<text x="39.8" y="662.0" font-size="9.78" text-anchor="start" textLength="7.5" lengthAdjust="spacingAndGlyphs">M</text>
<text x="40.9" y="611.0" font-size="9.78" text-anchor="start" textLength="7.1" lengthAdjust="spacingAndGlyphs">X</text>
<text x="26.9" y="560.0" font-size="9.78" text-anchor="start" textLength="21.1" lengthAdjust="spacingAndGlyphs">X10</text>
<text x="74.0" y="775.0" font-size="9.78" text-anchor="start" textLength="33.6" lengthAdjust="spacingAndGlyphs">05/24</text>
<text x="175.0" y="775.0" font-size="9.78" text-anchor="start" textLength="34.0" lengthAdjust="spacingAndGlyphs">05/27</text>
<text x="276.0" y="775.0" font-size="9.78" text-anchor="start" textLength="34.0" lengthAdjust="spacingAndGlyphs">05/30</text>
<text x="377.0" y="775.0" font-size="9.78" text-anchor="start" textLength="34.0" lengthAdjust="spacingAndGlyphs">06/02</text>
<text x="478.0" y="775.0" font-size="9.78" text-anchor="start" textLength="34.0" lengthAdjust="spacingAndGlyphs">06/05</text>
<text x="18.0" y="696.0" font-size="9.78" text-anchor="start" textLength="98.0" lengthAdjust="spacingAndGlyphs" transform="rotate(-90 18.0 696.0)">GOES X-ray Class</text>
<text x="479.6" y="790.0" font-size="9.78" text-anchor="start" textLength="103.5" lengthAdjust="spacingAndGlyphs">Prepared by HELIO</text>
</g></svg>
</body></html>
